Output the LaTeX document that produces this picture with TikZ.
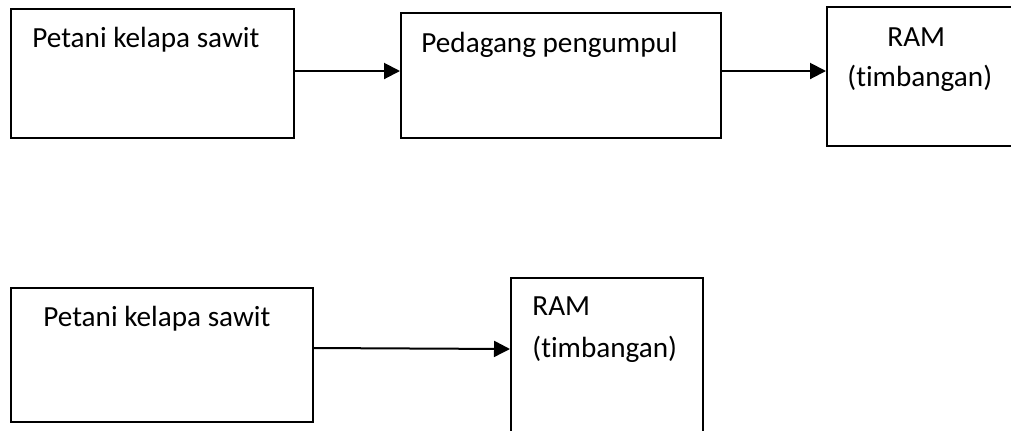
\documentclass[tikz,border=0pt]{standalone}
\usepackage{fontspec}
\setmainfont[Ligatures=NoCommon]{Carlito}
\usetikzlibrary{arrows.meta}
\tikzset{
  box/.style={draw, line width=1pt, inner sep=0pt, anchor=north west},
  lbl/.style={inner sep=0pt, anchor=base west, font=\fontsize{14.6}{17}\selectfont},
  arr/.style={line width=1pt, -{Triangle[length=8pt,width=8pt]}}
}
\begin{document}
\begin{tikzpicture}[x=0.5pt,y=-0.5pt]
\useasboundingbox (0,0) rectangle (1011,430);
\clip (0,0) rectangle (1011,430);
\fill[white] (0,0) rectangle (1011,430);
% top row
\node (b1) [box, minimum width=141.5pt, minimum height=64.5pt] at (10,8) {};
\node (b2) [box, minimum width=160pt, minimum height=62.5pt] at (400,12) {};
\node (b3) [box, minimum width=120pt, minimum height=69.5pt] at (826,6) {};
\node (t1) [lbl] at (32,47) {Petani kelapa sawit};
\node (t2) [lbl] at (421,52) {Pedagang pengumpul};
\node (t3a) [lbl] at (887,46) {RAM};
\node (t3b) [lbl] at (847,86) {(timbangan)};
\draw[arr] ([yshift=1.25pt]b1.east) coordinate (a1) -- (a1 -| b2.west);
\draw[arr] ([yshift=2.25pt]b2.east) coordinate (a2) -- (a2 -| b3.west);
% bottom row
\node (b4) [box, minimum width=151pt, minimum height=67pt] at (10,287) {};
\node (b5) [box, minimum width=96pt, minimum height=100pt] at (510,277) {};
\node (t4) [lbl] at (43,326) {Petani kelapa sawit};
\node (t5a) [lbl] at (532,315) {RAM};
\node (t5b) [lbl] at (532,357) {(timbangan)};
\draw[arr] ([yshift=3.5pt]b4.east) -- ([yshift=-36pt]b5.north west);
\end{tikzpicture}
\end{document}
